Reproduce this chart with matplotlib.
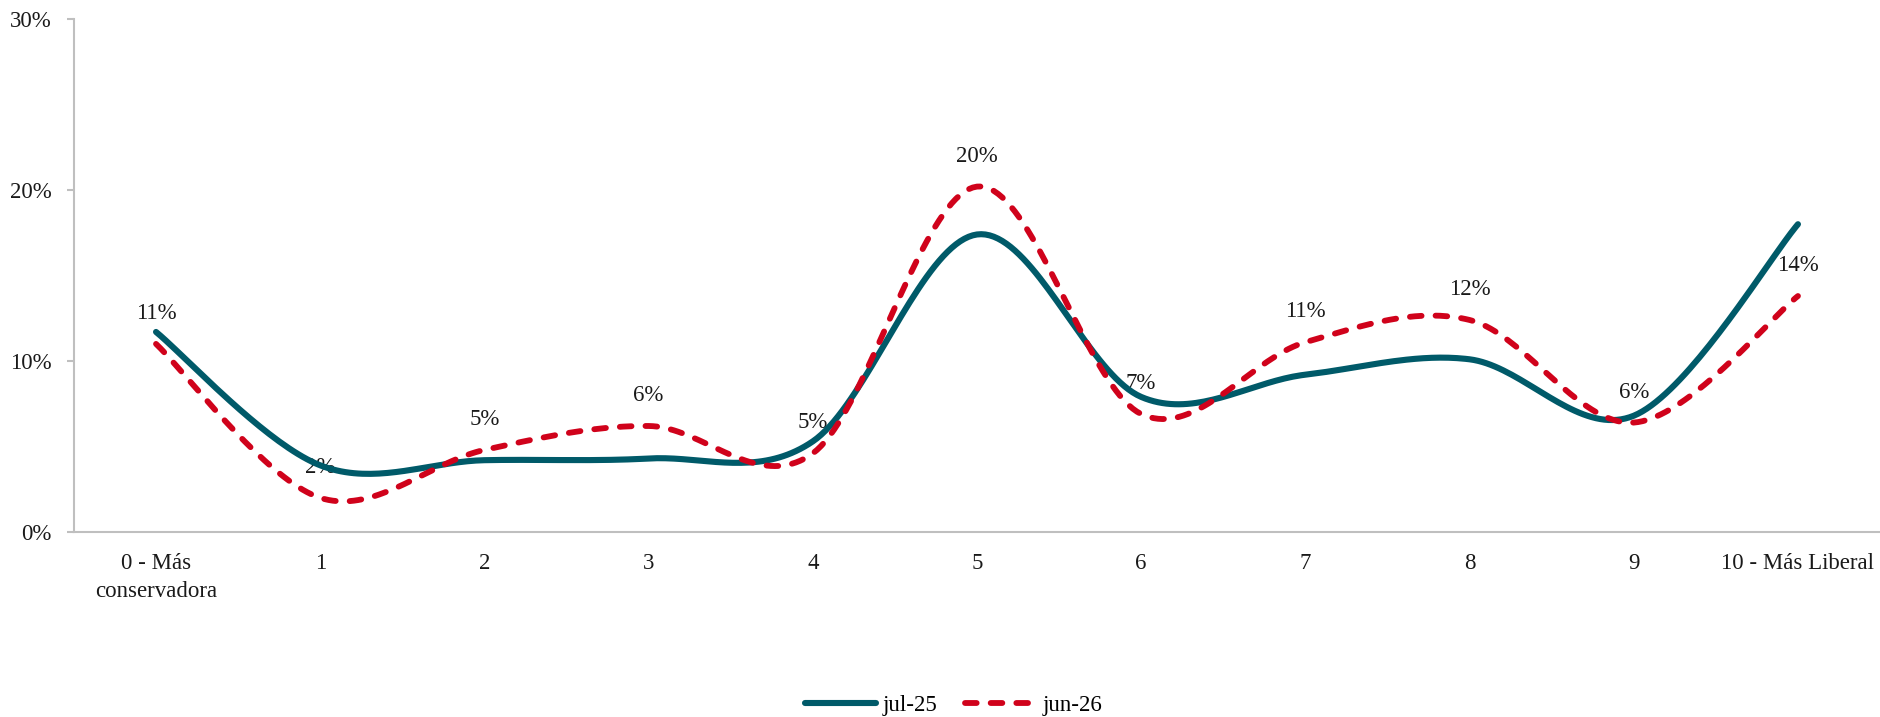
import numpy as np
import matplotlib
matplotlib.use("Agg")
import matplotlib.pyplot as plt
from matplotlib.ticker import FuncFormatter

# data
categories = ["0 - Más\nconservadora", "1", "2", "3", "4", "5", "6", "7", "8", "9", "10 - Más Liberal"]
jul25 = [11.7, 3.9, 4.2, 4.3, 5.3, 17.4, 7.9, 9.2, 10.1, 6.8, 18.0]
jun26 = [11.0, 2.0, 4.8, 6.2, 4.6, 20.2, 6.9, 11.1, 12.4, 6.4, 13.8]
jun26_labels = ["11%", "2%", "5%", "6%", "5%", "20%", "7%", "11%", "12%", "6%", "14%"]

TEAL = "#005a69"
RED = "#d0021b"
GREY = "#bfbfbf"
FS = 16.5

plt.rcParams['font.family'] = ['Liberation Serif', 'DejaVu Serif']


# excel-like smoothed line: cubic bezier with catmull-rom tangents
def smooth(xs, ys, n=40):
    x = np.asarray(xs, float)
    y = np.asarray(ys, float)
    xp = np.concatenate([[x[0]], x, [x[-1]]])
    yp = np.concatenate([[y[0]], y, [y[-1]]])
    out_x, out_y = [], []
    t = np.linspace(0, 1, n)
    for i in range(len(x) - 1):
        p0 = np.array([xp[i + 1], yp[i + 1]])
        p3 = np.array([xp[i + 2], yp[i + 2]])
        c1 = p0 + (np.array([xp[i + 2], yp[i + 2]]) - np.array([xp[i], yp[i]])) / 6
        c2 = p3 - (np.array([xp[i + 3], yp[i + 3]]) - np.array([xp[i + 1], yp[i + 1]])) / 6
        b = ((1 - t) ** 3)[:, None] * p0 + (3 * (1 - t) ** 2 * t)[:, None] * c1 \
            + (3 * (1 - t) * t ** 2)[:, None] * c2 + (t ** 3)[:, None] * p3
        if i > 0:
            b = b[1:]
        out_x.extend(b[:, 0])
        out_y.extend(b[:, 1])
    return out_x, out_y


fig = plt.figure(figsize=(18.81, 7.17), dpi=100)
ax = fig.add_axes([0.0393, 0.258, 0.9602, 0.7155])

xs = np.arange(len(categories))

sx, sy = smooth(xs, jul25)
ax.plot(sx, sy, color=TEAL, lw=4.4, solid_capstyle='round', zorder=3, label="jul-25")
sx, sy = smooth(xs, jun26)
ax.plot(sx, sy, color=RED, lw=4.2, dashes=(2.0, 2.4), dash_capstyle='round',
        zorder=4, label="jun-26")

for x, v, lab in zip(xs, jun26, jun26_labels):
    ax.annotate(lab, (x, v), xytext=(0, 22), textcoords='offset points',
                ha='center', va='center', fontsize=FS, color='#1a1a1a', zorder=1)

ax.set_xlim(-0.5, len(categories) - 0.5)
ax.set_ylim(0, 30)
ax.set_yticks([0, 10, 20, 30])
ax.yaxis.set_major_formatter(FuncFormatter(lambda v, p: "%d%%" % v))
ax.set_xticks(xs)
ax.set_xticklabels(categories, linespacing=1.45)

for s in ['top', 'right']:
    ax.spines[s].set_visible(False)
for s in ['left', 'bottom']:
    ax.spines[s].set_color(GREY)
    ax.spines[s].set_linewidth(1.5)

ax.tick_params(axis='y', length=5, width=1.5, color=GREY, pad=11, labelsize=FS, labelcolor='#1a1a1a')
ax.tick_params(axis='x', length=0, pad=15, labelsize=FS, labelcolor='#1a1a1a')

fig.legend(loc='center', bbox_to_anchor=(0.507, 0.016), ncol=2, frameon=False,
           fontsize=FS, handlelength=3.1, handletextpad=0.3, columnspacing=1.2)

fig.savefig("out.png", dpi=100)
